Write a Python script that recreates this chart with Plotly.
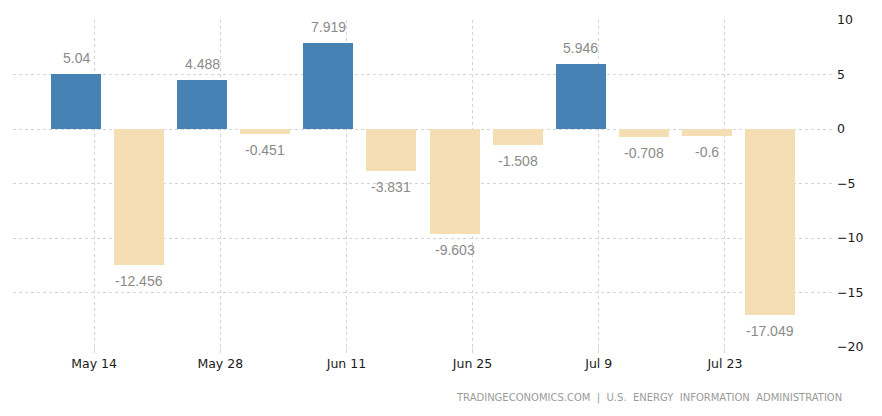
import plotly.graph_objects as go

dates = ["2018-05-12", "2018-05-19", "2018-05-26", "2018-06-02", "2018-06-09", "2018-06-16",
         "2018-06-23", "2018-06-30", "2018-07-07", "2018-07-14", "2018-07-21", "2018-07-28"]
values = [5.04, -12.456, 4.488, -0.451, 7.919, -3.831, -9.603, -1.508, 5.946, -0.708, -0.6, -17.049]
labels = ["5.04", "-12.456", "4.488", "-0.451", "7.919", "-3.831", "-9.603", "-1.508",
          "5.946", "-0.708", "-0.6", "-17.049"]
tick_dates = ["2018-05-14", "2018-05-28", "2018-06-11", "2018-06-25", "2018-07-09", "2018-07-23"]
tick_text = ["May 14", "May 28", "Jun 11", "Jun 25", "Jul 9", "Jul 23"]
y_ticks = [10, 5, 0, -5, -10, -15, -20]

BLUE = "#4682B4"
WHEAT = "#F5DEB3"
colors = [BLUE if v >= 0 else WHEAT for v in values]

fig = go.Figure()
fig.add_trace(go.Bar(
    x=dates, y=values, marker=dict(color=colors, line=dict(width=0)),
    width=4.79e8, hoverinfo="skip",
))

for d, v, t in zip(dates, values, labels):
    fig.add_annotation(
        x=d, y=v, text=t, showarrow=False,
        yshift=16 if v >= 0 else -16,
        font=dict(family="Liberation Sans, Arial, sans-serif", size=14, color="#8a8a8a"),
    )

fig.add_annotation(
    xref="paper", yref="paper", x=1.013, y=-0.155, xanchor="right", yanchor="middle",
    text="TRADINGECONOMICS.COM&nbsp;&nbsp;|&nbsp;&nbsp;U.S.&nbsp;&nbsp;ENERGY&nbsp;&nbsp;INFORMATION&nbsp;&nbsp;ADMINISTRATION",
    showarrow=False,
    font=dict(family="DejaVu Sans, sans-serif", size=10, color="#9a9a9a"),
)

fig.update_layout(
    width=882, height=416,
    margin=dict(l=13, r=49, t=16, b=69),
    paper_bgcolor="white", plot_bgcolor="white",
    showlegend=False,
    bargap=0,
    xaxis=dict(
        type="date", range=["2018-05-05", "2018-08-04"],
        tickvals=tick_dates, ticktext=tick_text,
        showgrid=True, gridcolor="#d4d4d4", griddash="dot", gridwidth=1,
        ticks="outside", ticklen=5, tickcolor="#d4d4d4",
        showline=False, zeroline=False,
        tickfont=dict(family="DejaVu Sans, sans-serif", size=12.5, color="#1a1a1a"),
    ),
    yaxis=dict(
        side="right", range=[-20, 10], tickvals=y_ticks,
        showgrid=True, gridcolor="#d4d4d4", griddash="dot", gridwidth=1,
        zeroline=False, showline=False, ticks="",
        tickfont=dict(family="DejaVu Sans, sans-serif", size=12.5, color="#1a1a1a"),
        ticklabelstandoff=3,
    ),
)

fig.write_html("out.html", config={"displayModeBar": False},
               post_script="document.body.style.margin='0';")
